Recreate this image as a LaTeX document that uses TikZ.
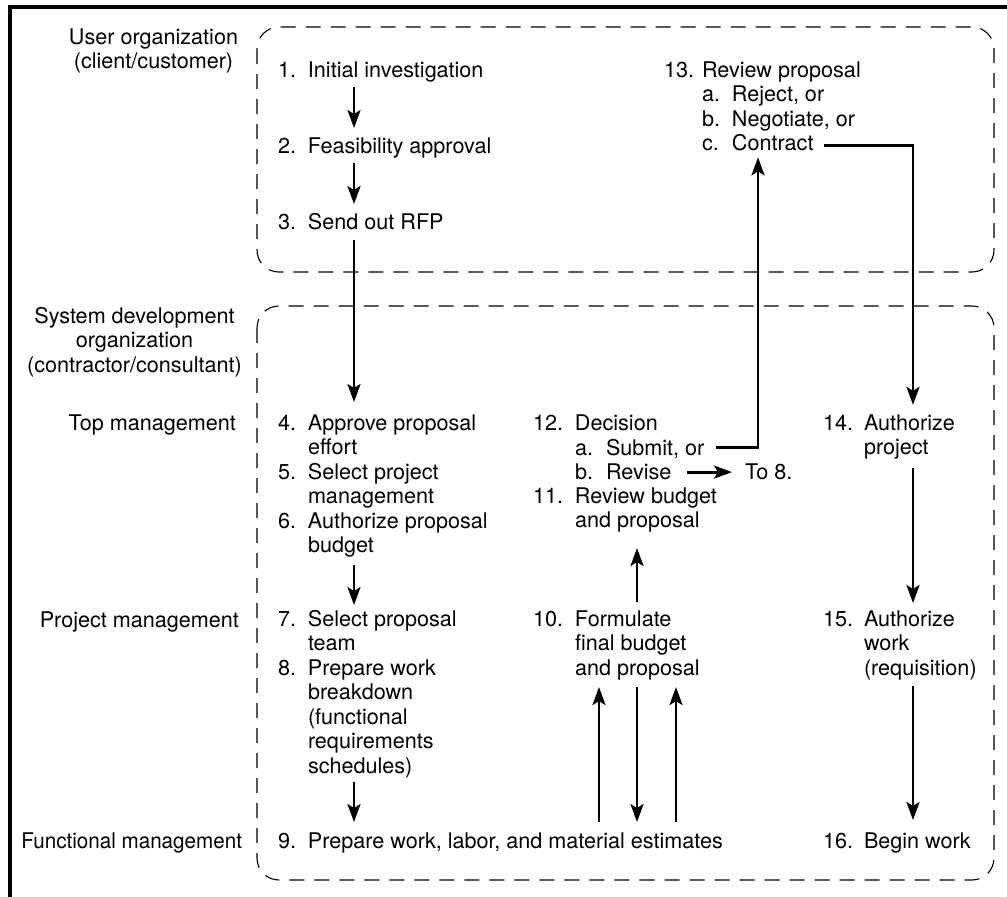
\documentclass[tikz,border=0pt]{standalone}
\usepackage{fontspec}
\setmainfont{TeX Gyre Heros}
\usetikzlibrary{arrows.meta}
\newcommand\nb[2][30pt]{\makebox[#1][l]{#2}}
\newcommand\tb[1]{\begin{tabular}[t]{@{}l@{}l@{}}#1\end{tabular}}
\begin{document}
\begin{tikzpicture}[x=1pt,y=-1pt,
  every node/.style={inner sep=0pt, outer sep=0pt, font=\fontsize{21.6}{24.5}\selectfont},
  lbl/.style={anchor=base west},
  arr/.style={line width=2.8pt, -{Stealth[length=18pt,width=13pt,inset=4pt]}},
  dbox/.style={line width=1.1pt, dash pattern=on 15pt off 10pt, rounded corners=22pt},
  border/.style={line width=3.5pt}]
\useasboundingbox (0,0) rectangle (1007,897);

% frame and group boxes
\draw[border] (1007,7) -- (10,7) -- (10,897);
\draw[dbox] (257,27) rectangle (994,272);
\draw[dbox] (257,306) rectangle (994,880);

% left labels
\node[anchor=base] (uo) at (153.5,44) {\begin{tabular}[t]{@{}c@{}}User organization\\(client/customer)\end{tabular}};
\node[anchor=base] (sd) at (134.5,323) {\begin{tabular}[t]{@{}c@{}}System development\\organization\\(contractor/consultant)\end{tabular}};
\node[anchor=base east] (tm) at (236,430) {Top management};
\node[anchor=base east] (pm) at (239,627) {Project management};
\node[anchor=base east] (fm) at (242,848) {\scalebox{0.955}[1]{Functional management}};

% left column
\node[lbl] (s1) at (278,77) {\tb{\nb{1.}&Initial investigation}};
\node[lbl] (s2) at (278,153) {\tb{\nb{2.}&Feasibility approval}};
\node[lbl] (s3) at (278,229) {\tb{\nb{3.}&Send out RFP}};
\node[lbl] (s4) at (278,430) {\tb{\nb{4.}&Approve proposal\\&effort}};
\node[lbl] (s5) at (278,479) {\tb{\nb{5.}&Select project\\&management}};
\node[lbl] (s6) at (278,528) {\tb{\nb{6.}&Authorize proposal\\&budget}};
\node[lbl] (s7) at (278,626) {\tb{\nb{7.}&Select proposal\\&team}};
\node[lbl] (s8) at (278,675) {\tb{\nb{8.}&Prepare work\\&breakdown\\&(functional\\&requirements\\&schedules)}};
\node[lbl] (s9) at (278,848) {\tb{\nb{9.}&Prepare work, labor, and material estimates}};

% middle column
\node[lbl] (s12) at (533,430) {\tb{\nb[42pt]{12.}&Decision}};
\node[lbl] (s12a) at (575,455) {\tb{\nb[31pt]{a.}&Submit, or}};
\node[lbl] (s12b) at (575,479) {\tb{\nb[31pt]{b.}&Revise}};
\node[lbl] (to8) at (745,479) {\tb{To 8.}};
\node[lbl] (s11) at (533,503) {\tb{\nb[42pt]{11.}&Review budget\\&and proposal}};
\node[lbl] (s10) at (533,626) {\tb{\nb[42pt]{10.}&Formulate\\&final budget\\&and proposal}};

% top right
\node[lbl] (s13) at (664,77) {\tb{\nb[38pt]{13.}&Review proposal}};
\node[lbl] (s13a) at (702,101) {\tb{\nb{a.}&Reject, or}};
\node[lbl] (s13b) at (702,126) {\tb{\nb{b.}&Negotiate, or}};
\node[lbl] (s13c) at (702,150) {\tb{\nb{c.}&Contract}};

% right column
\node[lbl] (s14) at (823,430) {\tb{\nb[41pt]{14.}&Authorize\\&project}};
\node[lbl] (s15) at (823,626) {\tb{\nb[41pt]{15.}&Authorize\\&work\\&(requisition)}};
\node[lbl] (s16) at (823,848) {\tb{\nb[41pt]{16.}&Begin work}};

% x positions of vertical connectors
\coordinate (xa) at (354,0);
\coordinate (xb1) at (599,0);
\coordinate (xb2) at (637,0);
\coordinate (xb3) at (676,0);
\coordinate (xs) at (758,0);
\coordinate (xr) at (913,0);

% connectors
\draw[arr,shorten <=2.7pt,shorten >=7.8pt] (xa |- s1.south) -- (xa |- s2.north);
\draw[arr,shorten <=2.7pt,shorten >=7.8pt] (xa |- s2.south) -- (xa |- s3.north);
\draw[arr,shorten <=3.7pt,shorten >=10.8pt] (xa |- s3.south) -- (xa |- s4.north);
\draw[arr,shorten <=5.2pt,shorten >=3.8pt] (xa |- s6.south) -- (xa |- s7.north);
\draw[arr,shorten <=1.7pt,shorten >=8.8pt] (xa |- s8.south) -- (xa |- s9.north);

\draw[arr,shorten <=8.8pt,shorten >=4.7pt] (xb1 |- s9.north) -- (xb1 |- s10.south);
\draw[arr,shorten <=4.7pt,shorten >=8.8pt] (xb2 |- s10.south) -- (xb2 |- s9.north);
\draw[arr,shorten <=8.8pt,shorten >=4.7pt] (xb3 |- s9.north) -- (xb3 |- s10.south);
\draw[arr,shorten <=6.8pt,shorten >=13.2pt] (xb2 |- s10.north) -- (xb2 |- s11.south);

\draw[arr] ([xshift=12pt,yshift=3pt]s12a.east) -| (xs |- s13c.south);
\draw[arr] ([xshift=16pt,yshift=2pt]s12b.east) -- ([xshift=-13pt,yshift=2pt]to8.west);
\draw[arr,shorten >=8pt] ([xshift=10.5pt]s13c.east) -| (xr |- s14.north);

\draw[arr,shorten <=6.2pt,shorten >=5.8pt] (xr |- s14.south) -- (xr |- s15.north);
\draw[arr,shorten <=3.7pt,shorten >=10.8pt] (xr |- s15.south) -- (xr |- s16.north);
\end{tikzpicture}
\end{document}
